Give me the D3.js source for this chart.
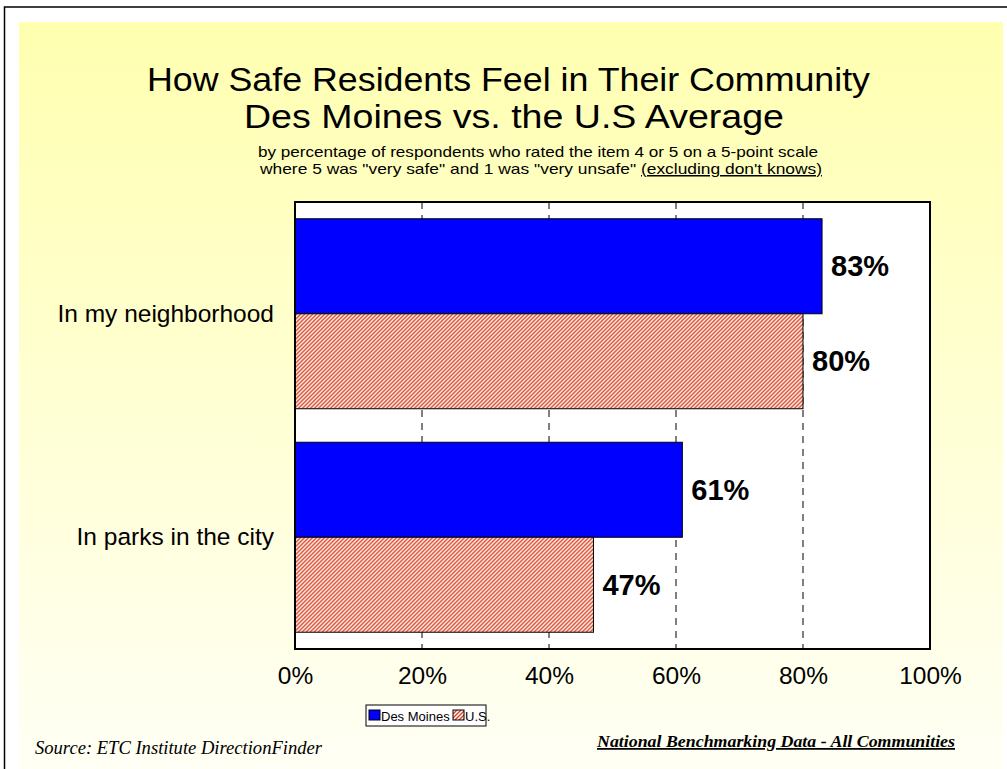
<!DOCTYPE html>
<html>
<head>
<meta charset="utf-8">
<script src="https://cdn.jsdelivr.net/npm/d3@7"></script>
<style>
  html, body { margin: 0; padding: 0; background: #ffffff; }
  svg { display: block; }
</style>
</head>
<body>
<svg id="chart" width="1007" height="769"></svg>
<script>
// ---- data ----
const categories = ["In my neighborhood", "In parks in the city"];
const seriesNames = ["Des Moines", "U.S."];
const desMoines = [83, 61];
const usAverage = [80, 47];
const xTicks = [0, 20, 40, 60, 80, 100];
const gridTicks = [20, 40, 60, 80];
const titleLines = ["How Safe Residents Feel in Their Community", "Des Moines vs. the U.S Average"];
const subtitleLine1 = "by percentage of respondents who rated the item 4 or 5 on a 5-point scale";
const subtitleLine2a = "where 5 was \"very safe\" and 1 was \"very unsafe\" ";
const subtitleLine2b = "(excluding don't knows)";
const sourceText = "Source:  ETC Institute DirectionFinder";
const benchmarkText = "National Benchmarking Data - All Communities";

const svg = d3.select("#chart");
const defs = svg.append("defs");

// background gradient
const grad = defs.append("linearGradient").attr("id", "bg").attr("x1", 0).attr("y1", 0).attr("x2", 0).attr("y2", 1);
grad.append("stop").attr("offset", "0%").attr("stop-color", "#ffffb0");
grad.append("stop").attr("offset", "100%").attr("stop-color", "#fffff6");

// hatch pattern
const pat = defs.append("pattern").attr("id", "hatch").attr("patternUnits", "userSpaceOnUse")
  .attr("width", 4).attr("height", 4);
pat.append("rect").attr("width", 4).attr("height", 4).attr("fill", "#ffffff");
pat.append("path").attr("d", "M-1,1 l2,-2 M0,4 l4,-4 M3,5 l2,-2")
  .attr("stroke", "#d9482a").attr("stroke-width", 1.5);

// outer frame and background
svg.append("rect").attr("x", 4.5).attr("y", 7).attr("width", 1010).attr("height", 770)
  .attr("fill", "#ffffff").attr("stroke", "#000").attr("stroke-width", 1.5);
svg.append("rect").attr("x", 19).attr("y", 22).attr("width", 984).attr("height", 760)
  .attr("fill", "url(#bg)");

// titles
const font = "'Liberation Sans', Arial, sans-serif";
const titleWidths = [723, 540];
svg.selectAll("text.title").data(titleLines).enter().append("text")
  .attr("class", "title")
  .attr("x", (d, i) => i === 0 ? 508.5 : 514).attr("y", (d, i) => 91 + i * 37)
  .attr("text-anchor", "middle")
  .attr("font-family", font).attr("font-size", 33)
  .attr("textLength", (d, i) => titleWidths[i]).attr("lengthAdjust", "spacingAndGlyphs")
  .attr("fill", "#000").text(d => d);

svg.append("text").attr("x", 538).attr("y", 157).attr("text-anchor", "middle")
  .attr("font-family", font).attr("font-size", 15)
  .attr("textLength", 560).attr("lengthAdjust", "spacingAndGlyphs").text(subtitleLine1);
const sub2 = svg.append("text").attr("x", 541).attr("y", 174).attr("text-anchor", "middle")
  .attr("font-family", font).attr("font-size", 15)
  .attr("textLength", 562).attr("lengthAdjust", "spacingAndGlyphs");
sub2.append("tspan").text(subtitleLine2a);
sub2.append("tspan").attr("text-decoration", "underline").text(subtitleLine2b);

// plot
const plot = { left: 295, right: 930, top: 202, bottom: 649 };
const x = d3.scaleLinear().domain([0, 100]).range([plot.left, plot.right]);
const y = d3.scaleBand().domain(categories).range([plot.top, plot.bottom])
  .paddingInner(0.15).paddingOuter(0.075);
const ySub = d3.scaleBand().domain(seriesNames).range([0, y.bandwidth()]);

svg.append("rect").attr("x", plot.left).attr("y", plot.top)
  .attr("width", plot.right - plot.left).attr("height", plot.bottom - plot.top)
  .attr("fill", "#ffffff");

// gridlines
svg.append("g").selectAll("line").data(gridTicks).enter().append("line")
  .attr("x1", d => x(d)).attr("x2", d => x(d))
  .attr("y1", plot.top).attr("y2", plot.bottom)
  .attr("stroke", "#808080").attr("stroke-width", 2).attr("stroke-dasharray", "7,6");

// bars
const rows = categories.map((c, i) => ({ cat: c, values: [
  { s: seriesNames[0], v: desMoines[i] },
  { s: seriesNames[1], v: usAverage[i] }
]}));
const fills = { "Des Moines": "#0000ff", "U.S.": "url(#hatch)" };

const g = svg.append("g").selectAll("g").data(rows).enter().append("g")
  .attr("transform", d => `translate(0,${y(d.cat)})`);
g.selectAll("rect").data(d => d.values).enter().append("rect")
  .attr("x", x(0)).attr("y", d => ySub(d.s))
  .attr("width", d => x(d.v) - x(0)).attr("height", ySub.bandwidth())
  .attr("fill", d => fills[d.s]).attr("stroke", "#000").attr("stroke-width", 1);
g.selectAll("text").data(d => d.values).enter().append("text")
  .attr("x", d => x(d.v) + 9).attr("y", d => ySub(d.s) + ySub.bandwidth() / 2 + 10)
  .attr("font-family", font).attr("font-weight", "bold").attr("font-size", 29)
  .text(d => d.v + "%");

// plot border
svg.append("rect").attr("x", plot.left).attr("y", plot.top)
  .attr("width", plot.right - plot.left).attr("height", plot.bottom - plot.top)
  .attr("fill", "none").attr("stroke", "#000").attr("stroke-width", 2);

// x axis
const xAxis = svg.append("g").attr("transform", `translate(0,${plot.bottom})`)
  .call(d3.axisBottom(x).tickValues(xTicks).tickSize(0).tickPadding(18).tickFormat(d => d + "%"));
xAxis.select(".domain").remove();
xAxis.selectAll("text").attr("font-family", font).attr("font-size", 24.5).attr("fill", "#000");

// y axis
const yAxis = svg.append("g").attr("transform", `translate(${plot.left},0)`)
  .call(d3.axisLeft(y).tickSize(0).tickPadding(21));
yAxis.select(".domain").remove();
yAxis.selectAll("text").attr("font-family", font).attr("font-size", 24.5).attr("fill", "#000");

// legend
const lg = svg.append("g").attr("transform", "translate(366,705)");
lg.append("rect").attr("x", 0).attr("y", 0).attr("width", 120).attr("height", 21)
  .attr("fill", "#ffffff").attr("stroke", "#000").attr("stroke-width", 1);
const legendItems = [
  { s: seriesNames[0], x: 3 },
  { s: seriesNames[1], x: 87 }
];
lg.selectAll("rect.sw").data(legendItems).enter().append("rect").attr("class", "sw")
  .attr("x", d => d.x).attr("y", 5).attr("width", 11).attr("height", 10)
  .attr("fill", d => fills[d.s]).attr("stroke", "#000").attr("stroke-width", 1);
lg.selectAll("text").data(legendItems).enter().append("text")
  .attr("x", d => d.x + 12).attr("y", 15.5)
  .attr("font-family", font).attr("font-size", 13).text(d => d.s);

// footer
svg.append("text").attr("x", 35).attr("y", 754)
  .attr("font-family", "'Liberation Serif', 'Times New Roman', serif").attr("font-style", "italic")
  .attr("font-size", 18).attr("textLength", 287).attr("lengthAdjust", "spacingAndGlyphs")
  .text(sourceText);
svg.append("text").attr("x", 955).attr("y", 747).attr("text-anchor", "end")
  .attr("font-family", "'Liberation Serif', 'Times New Roman', serif").attr("font-style", "italic")
  .attr("font-weight", "bold").attr("font-size", 17.5).attr("text-decoration", "underline")
  .attr("textLength", 358).attr("lengthAdjust", "spacingAndGlyphs")
  .text(benchmarkText);
</script>
</body>
</html>
